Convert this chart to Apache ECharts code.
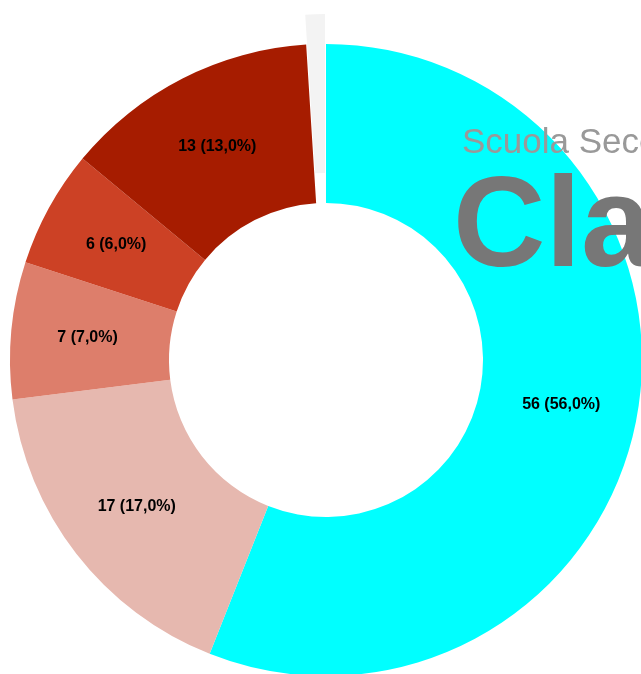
<!DOCTYPE html>
<html>
<head>
<meta charset="utf-8">
<script src="https://cdn.jsdelivr.net/npm/echarts@6/dist/echarts.min.js"></script>
<style>
  html, body { margin: 0; padding: 0; background: #fff; }
  #main { width: 641px; height: 674px; }
</style>
</head>
<body>
<div id="main"></div>
<script>
// dati del grafico
var categorie = ['A', 'B', 'C', 'D', 'E', 'F']
var valori = [56, 17, 7, 6, 13, 1]
var colori = ['#00ffff', '#e6b8af', '#dd7e6b', '#cc4125', '#a61c00', '#f3f3f3']

var totale = valori.reduce(function (a, b) { return a + b }, 0)

var dati = valori.map(function (v, i) {
  var item = { name: categorie[i], value: v, itemStyle: { color: colori[i] } }
  // la fetta piccola e' staccata e senza etichetta
  if (i === valori.length - 1) {
    item.selected = true
    item.label = { show: false }
  }
  return item
})

var myChart = echarts.init(document.getElementById('main'))
myChart.setOption({
  animation: false,
  title: [
    {
      text: 'Scuola Secondaria',
      left: 457,
      top: 121,
      textStyle: {
        fontFamily: 'Liberation Sans',
        fontSize: 35,
        fontWeight: 'normal',
        color: '#999999'
      }
    },
    {
      text: 'Classe',
      left: 448,
      top: 162,
      textStyle: {
        fontFamily: 'Liberation Sans',
        fontSize: 128,
        fontWeight: 'bold',
        color: '#777777'
      }
    }
  ],
  series: [
    {
      type: 'pie',
      center: [326, 360],
      radius: [157, 316],
      startAngle: 90,
      clockwise: true,
      selectedMode: 'single',
      selectedOffset: 30,
      label: {
        show: true,
        position: 'inside',
        color: '#000',
        fontFamily: 'Liberation Sans',
        fontSize: 16,
        fontWeight: 'bold',
        formatter: function (p) {
          return p.value + ' (' + (p.value / totale * 100).toFixed(1).replace('.', ',') + '%)'
        }
      },
      labelLine: { show: false },
      emphasis: { disabled: true },
      data: dati
    }
  ]
})
</script>
</body>
</html>
